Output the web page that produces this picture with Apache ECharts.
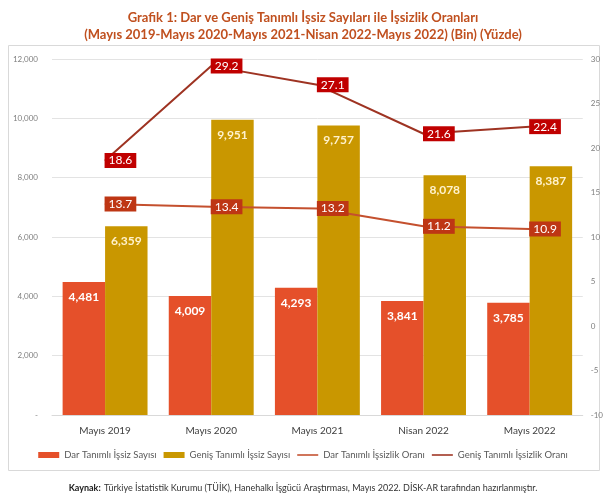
<!DOCTYPE html>
<html>
<head>
<meta charset="utf-8">
<style>
  html, body { margin: 0; padding: 0; background: #fff; }
  #chart { width: 606px; height: 501px; }
</style>
<script src="https://cdn.jsdelivr.net/npm/echarts@6/dist/echarts.min.js"></script>
</head>
<body>
<div id="chart"></div>
<script>
// veri
var categories = ['Mayıs 2019', 'Mayıs 2020', 'Mayıs 2021', 'Nisan 2022', 'Mayıs 2022'];
var darSayi = [4481, 4009, 4293, 3841, 3785];
var genisSayi = [6359, 9951, 9757, 8078, 8387];
var darOran = [13.7, 13.4, 13.2, 11.2, 10.9];
var genisOran = [18.6, 29.2, 27.1, 21.6, 22.4];

var font = 'Lato, "Open Sans", sans-serif';
var chart = echarts.init(document.getElementById('chart'), null, { renderer: 'canvas' });

function barLabel(color) {
  return {
    show: true,
    position: 'insideTop',
    distance: 9,
    color: color,
    fontSize: 12,
    fontWeight: 'bold',
    fontFamily: font,
    formatter: function (p) { return p.value.toLocaleString('en-US'); }
  };
}
function lineLabel(bg) {
  return {
    show: true,
    position: 'right',
    distance: -1,
    color: '#fff',
    fontSize: 12,
    fontFamily: font,
    backgroundColor: bg,
    padding: [2, 4, 1, 4],
    formatter: function (p) { return p.value.toFixed(1); }
  };
}
var lineIcon = 'path://M0,0 L40,0 L40,3 L0,3 Z';

chart.setOption({
  animation: false,
  textStyle: { fontFamily: font },
  title: {
    text: 'Grafik 1: Dar ve Geniş Tanımlı İşsiz Sayıları ile İşsizlik Oranları\n(Mayıs 2019-Mayıs 2020-Mayıs 2021-Nisan 2022-Mayıs 2022) (Bin) (Yüzde)',
    left: 'center',
    top: 4,
    textStyle: { color: '#C0501F', fontSize: 13, fontWeight: 'bold', lineHeight: 17, fontFamily: font }
  },
  graphic: [
    {
      type: 'rect',
      shape: { x: 8.5, y: 45.5, width: 591, height: 425 },
      style: { fill: 'none', stroke: '#d9d9d9', lineWidth: 1 },
      silent: true
    },
    {
      type: 'text',
      left: 'center',
      top: 482,
      style: {
        rich: {
          b: { fontWeight: 'bold', fontSize: 9, fill: '#222', fontFamily: font },
          n: { fontSize: 9, fill: '#333', fontFamily: font }
        },
        text: '{b|Kaynak:} {n|Türkiye İstatistik Kurumu (TÜİK), Hanehalkı İşgücü Araştırması, Mayıs 2022. DİSK-AR tarafından hazırlanmıştır.}'
      }
    }
  ],
  legend: {
    bottom: 36,
    left: 'center',
    itemGap: 7,
    itemWidth: 21,
    itemHeight: 6,
    textStyle: { color: '#595959', fontSize: 9.5, fontFamily: font },
    data: [
      { name: 'Dar Tanımlı İşsiz Sayısı', icon: 'rect' },
      { name: 'Geniş Tanımlı İşsiz Sayısı', icon: 'rect' },
      { name: 'Dar Tanımlı İşsizlik Oranı', icon: lineIcon },
      { name: 'Geniş Tanımlı İşsizlik Oranı', icon: lineIcon }
    ]
  },
  grid: { left: 52, right: 23, top: 59, bottom: 86 },
  xAxis: {
    type: 'category',
    data: categories,
    axisLine: { lineStyle: { color: '#d9d9d9' } },
    axisTick: { show: false },
    axisLabel: { color: '#404040', fontSize: 10, margin: 11 }
  },
  yAxis: [
    {
      type: 'value',
      min: 0,
      max: 12000,
      interval: 2000,
      axisLine: { show: false },
      axisTick: { show: false },
      axisLabel: {
        color: '#7f7f7f',
        fontSize: 8,
        margin: 14,
        formatter: function (v) { return v === 0 ? '-' : v.toLocaleString('en-US'); }
      },
      splitLine: { lineStyle: { color: '#e3e3e3' } }
    },
    {
      type: 'value',
      min: -10,
      max: 30,
      interval: 5,
      axisLine: { show: false },
      axisTick: { show: false },
      axisLabel: { color: '#7f7f7f', fontSize: 8, margin: 8 },
      splitLine: { show: false }
    }
  ],
  series: [
    {
      name: 'Dar Tanımlı İşsiz Sayısı',
      type: 'bar',
      data: darSayi,
      barWidth: '40%',
      barGap: '0%',
      itemStyle: { color: '#E5502A' },
      label: barLabel('#ffffff')
    },
    {
      name: 'Geniş Tanımlı İşsiz Sayısı',
      type: 'bar',
      data: genisSayi,
      barWidth: '40%',
      barGap: '0%',
      itemStyle: { color: '#C99700' },
      label: barLabel('#FFF2CC')
    },
    {
      name: 'Dar Tanımlı İşsizlik Oranı',
      type: 'line',
      yAxisIndex: 1,
      data: darOran,
      symbol: 'circle',
      symbolSize: 1,
      lineStyle: { color: '#C4502E', width: 2 },
      itemStyle: { color: '#C4502E' },
      label: lineLabel('#BE3614'),
      z: 5
    },
    {
      name: 'Geniş Tanımlı İşsizlik Oranı',
      type: 'line',
      yAxisIndex: 1,
      data: genisOran,
      symbol: 'circle',
      symbolSize: 1,
      lineStyle: { color: '#9E3322', width: 2 },
      itemStyle: { color: '#9E3322' },
      label: lineLabel('#C00000'),
      z: 5
    }
  ]
});
</script>
</body>
</html>
